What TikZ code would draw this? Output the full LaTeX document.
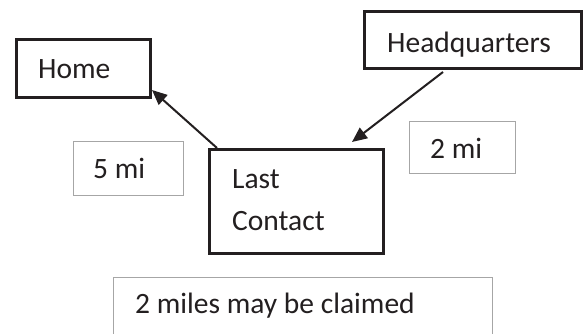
\documentclass[tikz,border=0pt]{standalone}
\usepackage{fontspec}
\setmainfont{Carlito}
\usetikzlibrary{arrows.meta}
\definecolor{ink}{HTML}{231F20}
\definecolor{thinc}{HTML}{A6A6A6}
\begin{document}
\begin{tikzpicture}[x=1pt,y=-1pt,
  thickbox/.style={draw=ink,line width=3pt,rectangle,inner sep=0pt},
  thinbox/.style={draw=thinc,line width=1pt,rectangle,inner sep=0pt},
  txt/.style={anchor=base west,inner sep=0pt,text=ink,font=\fontsize{29.5}{43}\selectfont},
  arr/.style={draw=ink,line width=2pt,-{Triangle[length=15pt,width=13pt]}}]
\useasboundingbox[fill=white] (0,0) rectangle (584,333);
% boxes
\node[thickbox,minimum width=134pt,minimum height=58pt] (home) at (83.5,68.5) {};
\node[thickbox,minimum width=217pt,minimum height=57pt] (hq) at (473,40) {};
\node[thickbox,minimum width=174pt,minimum height=104pt] (last) at (296.5,201.5) {};
\node[thinbox,minimum width=110pt,minimum height=54pt] (five) at (128,168) {};
\node[thinbox,minimum width=106pt,minimum height=52pt] (two) at (462,147) {};
\node[thinbox,minimum width=379pt,minimum height=66pt] (claim) at (302.5,310) {};
% texts
\node[txt] (homeT) at (38,78) {Home};
\node[txt] (hqT) at (387,52) {Headquarters};
\node[txt] (fiveT) at (93,178) {5 mi};
\node[txt] (lastT) at (232,188) {Last};
\node[txt] (contactT) at (232,230) {Contact};
\node[txt] (twoT) at (430,158) {2 mi};
\node[txt] (claimT) at (135,313) {2 miles may be claimed};
% arrows
\draw[arr] ([xshift=9pt]last.north west) -- ([yshift=9pt]home.south east);
\draw[arr] ([xshift=-30pt,yshift=-2pt]hq.south) -- ([xshift=-33pt,yshift=6pt]last.north east);
\end{tikzpicture}
\end{document}
